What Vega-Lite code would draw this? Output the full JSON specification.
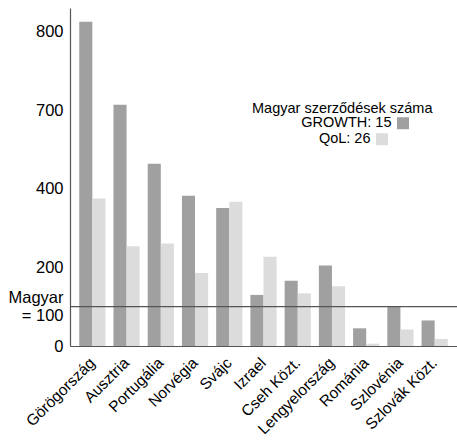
{
  "$schema": "https://vega.github.io/schema/vega-lite/v6.json",
  "autosize": "none",
  "width": 387,
  "height": 338,
  "padding": {"left": 70, "top": 8, "right": 0, "bottom": 96},
  "background": "white",
  "config": {
    "view": {"stroke": null},
    "font": "Liberation Sans",
    "axis": {"labelFont": "Liberation Sans", "labelColor": "#000", "domainColor": "#555", "domainWidth": 1.2, "grid": false}
  },
  "title": {
    "text": "Magyar szerződések száma",
    "anchor": "start",
    "frame": "group",
    "dx": 182,
    "dy": 115,
    "offset": 0,
    "baseline": "middle",
    "fontSize": 14.5,
    "fontWeight": "normal",
    "font": "Liberation Sans",
    "color": "#000"
  },
  "layer": [
    {
      "data": {
        "values": [
          {"orszag": "Görögország", "sorozat": "GROWTH: 15", "ertek": 825},
          {"orszag": "Görögország", "sorozat": "QoL: 26", "ertek": 375},
          {"orszag": "Ausztria", "sorozat": "GROWTH: 15", "ertek": 614},
          {"orszag": "Ausztria", "sorozat": "QoL: 26", "ertek": 254},
          {"orszag": "Portugália", "sorozat": "GROWTH: 15", "ertek": 464},
          {"orszag": "Portugália", "sorozat": "QoL: 26", "ertek": 261},
          {"orszag": "Norvégia", "sorozat": "GROWTH: 15", "ertek": 382},
          {"orszag": "Norvégia", "sorozat": "QoL: 26", "ertek": 186},
          {"orszag": "Svájc", "sorozat": "GROWTH: 15", "ertek": 351},
          {"orszag": "Svájc", "sorozat": "QoL: 26", "ertek": 367},
          {"orszag": "Izrael", "sorozat": "GROWTH: 15", "ertek": 130},
          {"orszag": "Izrael", "sorozat": "QoL: 26", "ertek": 227},
          {"orszag": "Cseh Közt.", "sorozat": "GROWTH: 15", "ertek": 166},
          {"orszag": "Cseh Közt.", "sorozat": "QoL: 26", "ertek": 134},
          {"orszag": "Lengyelország", "sorozat": "GROWTH: 15", "ertek": 205},
          {"orszag": "Lengyelország", "sorozat": "QoL: 26", "ertek": 152},
          {"orszag": "Románia", "sorozat": "GROWTH: 15", "ertek": 45},
          {"orszag": "Románia", "sorozat": "QoL: 26", "ertek": 6},
          {"orszag": "Szlovénia", "sorozat": "GROWTH: 15", "ertek": 101},
          {"orszag": "Szlovénia", "sorozat": "QoL: 26", "ertek": 42},
          {"orszag": "Szlovák Közt.", "sorozat": "GROWTH: 15", "ertek": 65},
          {"orszag": "Szlovák Közt.", "sorozat": "QoL: 26", "ertek": 18}
        ]
      },
      "mark": {"type": "bar"},
      "encoding": {
        "x": {
          "field": "orszag",
          "type": "nominal",
          "sort": null,
          "title": null,
          "scale": {"paddingInner": 0.235, "paddingOuter": 0.27},
          "axis": {"labelAngle": -45, "labelFontSize": 15.5, "ticks": false, "labelPadding": 9, "labelOffset": -5}
        },
        "xOffset": {"field": "sorozat", "type": "nominal", "sort": ["GROWTH: 15", "QoL: 26"]},
        "y": {
          "field": "ertek",
          "type": "quantitative",
          "title": null,
          "scale": {"domain": [0, 860], "nice": false, "zero": true},
          "axis": {
            "values": [0, 100, 200, 400, 600, 800],
            "labelExpr": "datum.value == 100 ? ['Magyar', '= 100'] : datum.value == 600 ? '700' : datum.label",
            "ticks": false,
            "labelPadding": 7,
            "labelFontSize": 16.5,
            "labelLineHeight": 18,
            "labelOffset": {"condition": {"test": "datum.value == 100", "value": -9}, "value": 0}
          }
        },
        "color": {
          "field": "sorozat",
          "type": "nominal",
          "sort": ["GROWTH: 15", "QoL: 26"],
          "scale": {"domain": ["GROWTH: 15", "QoL: 26"], "range": ["#a0a0a0", "#dcdcdc"]},
          "legend": {
            "title": null,
            "orient": "none",
            "legendX": 327,
            "legendY": 108,
            "padding": 0,
            "symbolType": "square",
            "symbolSize": 144,
            "symbolStrokeWidth": 0,
            "labelAlign": "right",
            "labelOffset": -20,
            "labelFontSize": 14.5,
            "labelFont": "Liberation Sans",
            "labelColor": "#000",
            "rowPadding": 1,
            "encode": {
              "symbols": {"update": {"x": {"signal": "datum.label == 'QoL: 26' ? -15 : 6"}}},
              "labels": {"update": {"dx": {"signal": "datum.label == 'QoL: 26' ? -21 : 0"}}}
            }
          }
        }
      }
    },
    {
      "data": {"values": [{"ref": 100}]},
      "mark": {"type": "rule", "color": "#555", "strokeWidth": 1.2},
      "encoding": {"y": {"field": "ref", "type": "quantitative"}}
    }
  ]
}
